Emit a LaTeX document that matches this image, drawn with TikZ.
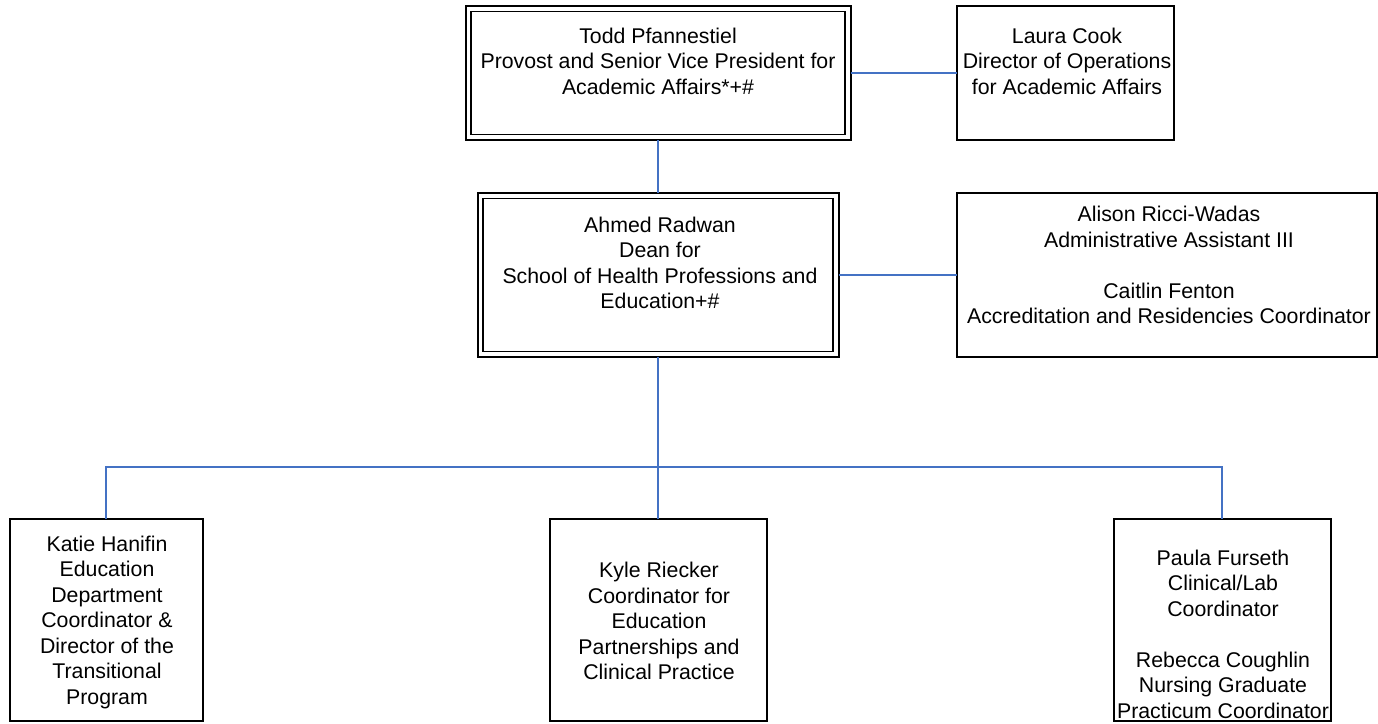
\documentclass[tikz,border=0pt]{standalone}
\usepackage{fontspec}
\setmainfont{Liberation Sans}
\definecolor{connblue}{RGB}{68,114,196}
\begin{document}
\begin{tikzpicture}[x=1pt,y=-1pt,
  box/.style={draw=black,line width=2pt,fill=white,inner sep=0pt,outer sep=0pt,rectangle},
  txt/.style={align=center,inner sep=0pt,font=\fontsize{21.3}{25.5}\selectfont},
  conn/.style={draw=connblue,line width=2pt}]
\useasboundingbox (0,0) rectangle (1378,723);
% boxes
\node[box,minimum width=385pt,minimum height=134pt] (top) at (658,73) {};
\node[box,minimum width=217pt,minimum height=134pt] (laura) at (1065.5,73) {};
\node[box,minimum width=361pt,minimum height=164pt] (dean) at (658,275) {};
\node[box,minimum width=420pt,minimum height=164pt] (staff) at (1167,275) {};
\node[box,minimum width=193pt,minimum height=202pt] (katie) at (106,620) {};
\node[box,minimum width=217pt,minimum height=202pt] (kyle) at (658,620) {};
\node[box,minimum width=217pt,minimum height=202pt] (paula) at (1222,620) {};
% inner lines of double borders
\draw[line width=1.1pt] ([shift={(5.5pt,-5.5pt)}]top.north west) rectangle ([shift={(-5.5pt,5.5pt)}]top.south east);
\draw[line width=1.1pt] ([shift={(5.5pt,-5.5pt)}]dean.north west) rectangle ([shift={(-5.5pt,5.5pt)}]dean.south east);
% connectors
\coordinate (bus) at (658,467);
\draw[conn] (top.east) -- (laura.west);
\draw[conn] (top.south) -- (dean.north);
\draw[conn] (dean.east) -- (staff.west);
\draw[conn] (dean.south) -- (kyle.north);
\draw[conn] (katie.north) |- (bus) -| (paula.north);
% texts
\node[txt] (toptxt) at (658,61) {Todd Pfannestiel\\Provost and Senior Vice President for\\Academic Affairs*+\#};
\node[txt] (lauratxt) at (1067,61) {Laura Cook\\Director of Operations\\for Academic Affairs};
\node[txt] (deantxt) at (660,263) {Ahmed Radwan\\Dean for\\School of Health Professions and\\Education+\#};
\node[txt] (stafftxt) at (1169,265) {Alison Ricci-Wadas\\Administrative Assistant III\\[25.5pt]Caitlin Fenton\\Accreditation and Residencies Coordinator};
\node[txt] (katietxt) at (107,622) {Katie Hanifin\\Education\\Department\\Coordinator \&\\Director of the\\Transitional\\Program};
\node[txt] (kyletxt) at (659,621) {Kyle Riecker\\Coordinator for\\Education\\Partnerships and\\Clinical Practice};
\node[txt] (paulatxt) at (1223,634) {Paula Furseth\\Clinical/Lab\\Coordinator\\[25.5pt]Rebecca Coughlin\\Nursing Graduate\\Practicum Coordinator};
\end{tikzpicture}
\end{document}
